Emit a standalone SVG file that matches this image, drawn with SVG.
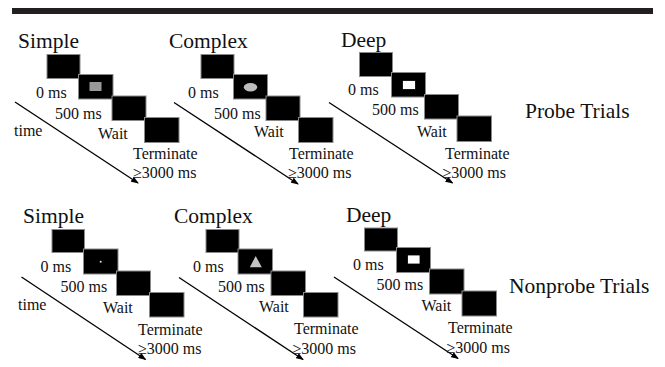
<svg xmlns="http://www.w3.org/2000/svg" width="665" height="367" viewBox="0 0 665 367">
<defs>
<style>
text{font-family:'Liberation Serif','Times New Roman','DejaVu Serif',serif;fill:#111}
.lab{font-size:16px}
.ttl{font-size:21.5px}
.scr{fill:#000;stroke:#8a8a8a;stroke-width:1}
.ax{stroke:#000;stroke-width:1.3;fill:none;marker-end:url(#ah)}
</style>
<marker id="ah" markerWidth="8" markerHeight="6" refX="7" refY="3" orient="auto" markerUnits="userSpaceOnUse">
<path d="M0,0 L8,3 L0,6 Z" fill="#000"/>
</marker>
</defs>
<rect x="12" y="8" width="641" height="6" fill="#231f20"/>

<g id="connectors">
<line class="ax" x1="15" y1="102" x2="138" y2="183"/>
<line class="ax" x1="174" y1="102.5" x2="298" y2="184"/>
<line class="ax" x1="329" y1="102.5" x2="452.5" y2="183"/>
<line class="ax" x1="21.5" y1="277" x2="145.5" y2="359.5"/>
<line class="ax" x1="179" y1="277.5" x2="303" y2="359.5"/>
<line class="ax" x1="334" y1="277" x2="458" y2="358.5"/>
</g>

<g id="probe-simple">
<text class="ttl" x="18" y="48">Simple</text>
<rect class="scr" x="47" y="54.5" width="33" height="24"/>
<rect class="scr" x="78.5" y="74.5" width="34.5" height="24.5"/>
<rect x="89.5" y="82" width="12" height="9" fill="#9a9a9a"/>
<rect class="scr" x="112" y="96" width="34" height="24.5"/>
<rect class="scr" x="144.5" y="117.5" width="34.5" height="25"/>
<text class="lab" x="36" y="98">0 ms</text>
<text class="lab" x="55" y="119">500 ms</text>
<text class="lab" x="14" y="136">time</text>
<text class="lab" x="98" y="139">Wait</text>
<text class="lab" x="133" y="159">Terminate</text>
<text class="lab" x="133" y="178">≥3000 ms</text>
</g>

<g id="probe-complex">
<text class="ttl" x="169" y="48">Complex</text>
<rect class="scr" x="201" y="54.5" width="33" height="24"/>
<rect class="scr" x="233.5" y="74.5" width="34" height="24.5"/>
<ellipse cx="250.5" cy="87.3" rx="6.7" ry="4.2" fill="#bdbdbd"/>
<rect class="scr" x="266" y="96" width="34" height="24.5"/>
<rect class="scr" x="298.5" y="117.5" width="34.5" height="25"/>
<text class="lab" x="188" y="98">0 ms</text>
<text class="lab" x="214" y="119">500 ms</text>
<text class="lab" x="254" y="137">Wait</text>
<text class="lab" x="289" y="159">Terminate</text>
<text class="lab" x="288" y="178">≥3000 ms</text>
</g>

<g id="probe-deep">
<text class="ttl" x="341" y="46.5">Deep</text>
<rect class="scr" x="359.5" y="52.5" width="33" height="24"/>
<rect class="scr" x="391.5" y="72.5" width="34" height="24.5"/>
<rect x="402.5" y="80.5" width="13" height="9" fill="#fff" stroke="#000" stroke-width="0.8"/>
<rect class="scr" x="424.5" y="94.5" width="34" height="24.5"/>
<rect class="scr" x="457" y="116" width="34.5" height="25.5"/>
<text class="lab" x="348" y="95">0 ms</text>
<text class="lab" x="372" y="114.5">500 ms</text>
<text class="lab" x="417" y="137">Wait</text>
<text class="lab" x="445" y="158.5">Terminate</text>
<text class="lab" x="442.5" y="178">≥3000 ms</text>
</g>

<g id="probe-label">
<text class="ttl" x="525" y="118">Probe Trials</text>
</g>

<g id="nonprobe-simple">
<text class="ttl" x="23" y="223">Simple</text>
<rect class="scr" x="52" y="229.5" width="32.5" height="23"/>
<rect class="scr" x="83.5" y="249" width="34.5" height="25"/>
<circle cx="100.7" cy="261.7" r="1" fill="#e0e0e0"/>
<rect class="scr" x="116.5" y="271" width="34" height="24.5"/>
<rect class="scr" x="149.5" y="292.5" width="34.5" height="24.5"/>
<text class="lab" x="40.5" y="271.5">0 ms</text>
<text class="lab" x="60.5" y="292">500 ms</text>
<text class="lab" x="18" y="310">time</text>
<text class="lab" x="103" y="313">Wait</text>
<text class="lab" x="138" y="335">Terminate</text>
<text class="lab" x="138" y="354">≥3000 ms</text>
</g>

<g id="nonprobe-complex">
<text class="ttl" x="174" y="223">Complex</text>
<rect class="scr" x="206" y="229.5" width="33" height="23"/>
<rect class="scr" x="238" y="249" width="34.5" height="25"/>
<polygon points="255.7,256 261.8,267.3 249.8,267.3" fill="#c4c4c4"/>
<rect class="scr" x="271" y="271" width="34.5" height="24.5"/>
<rect class="scr" x="303.5" y="292.5" width="34.5" height="24.5"/>
<text class="lab" x="193" y="271.5">0 ms</text>
<text class="lab" x="218" y="292">500 ms</text>
<text class="lab" x="259" y="311.5">Wait</text>
<text class="lab" x="294" y="333.5">Terminate</text>
<text class="lab" x="292.5" y="353.5">≥3000 ms</text>
</g>

<g id="nonprobe-deep">
<text class="ttl" x="346" y="221.5">Deep</text>
<rect class="scr" x="364.5" y="228" width="33" height="23"/>
<rect class="scr" x="396.5" y="247.5" width="34" height="25"/>
<rect x="407.5" y="255" width="12.5" height="9" fill="#fff" stroke="#000" stroke-width="0.8"/>
<rect class="scr" x="429.5" y="269" width="34.5" height="25"/>
<rect class="scr" x="462" y="291" width="34.5" height="25"/>
<text class="lab" x="353" y="270">0 ms</text>
<text class="lab" x="376.5" y="289.5">500 ms</text>
<text class="lab" x="421.5" y="311">Wait</text>
<text class="lab" x="448" y="332.5">Terminate</text>
<text class="lab" x="446.5" y="352.5">≥3000 ms</text>
</g>

<g id="nonprobe-label">
<text class="ttl" x="509" y="293">Nonprobe Trials</text>
</g>
</svg>
